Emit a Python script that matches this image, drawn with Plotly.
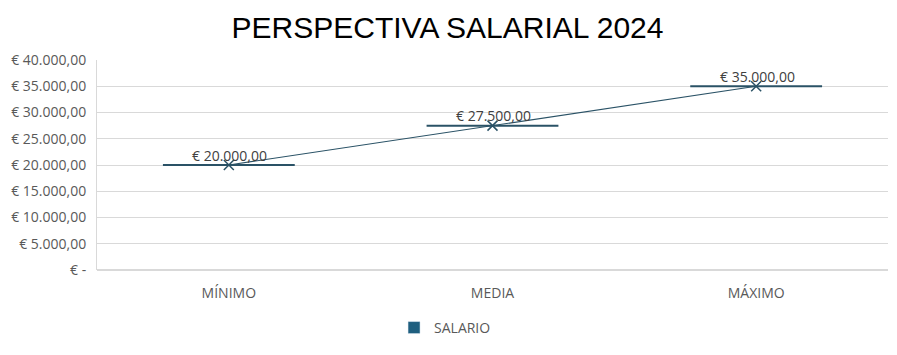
import plotly.graph_objects as go

categories = ["MÍNIMO", "MEDIA", "MÁXIMO"]
salario = [20000, 27500, 35000]
label_text = ["€ 20.000,00", "€ 27.500,00", "€ 35.000,00"]
ytick_vals = [0, 5000, 10000, 15000, 20000, 25000, 30000, 35000, 40000]
ytick_text = ["€ -", "€ 5.000,00", "€ 10.000,00", "€ 15.000,00", "€ 20.000,00",
              "€ 25.000,00", "€ 30.000,00", "€ 35.000,00", "€ 40.000,00"]

x_pos = list(range(len(categories)))

line_color = "#2a5266"
legend_color = "#1f5f7f"
font_fam = "Open Sans, Noto Sans, sans-serif"

fig = go.Figure()
fig.add_trace(go.Scatter(
    x=x_pos, y=salario, mode="lines+markers",
    line=dict(color=line_color, width=1.2),
    marker=dict(symbol="x-thin", size=10, line=dict(color=line_color, width=1.5), color=line_color),
    error_x=dict(type="constant", value=0.25, width=0, color=line_color, thickness=2),
    showlegend=False, cliponaxis=False,
))
fig.add_trace(go.Bar(x=[None], y=[None], name="SALARIO", marker_color=legend_color, showlegend=True))

for xp, yv, t in zip(x_pos, salario, label_text):
    fig.add_annotation(x=xp, y=yv, text=t, showarrow=False, yshift=10, xshift=1,
                       font=dict(family=font_fam, size=14, color="#404040"))

fig.update_layout(
    width=889, height=347,
    margin=dict(l=89, r=9, t=52, b=85, autoexpand=False),
    paper_bgcolor="white", plot_bgcolor="white",
    title=dict(text="PERSPECTIVA SALARIAL 2024", x=0.4944, xanchor="center", y=0.945, yanchor="middle",
               font=dict(family="Liberation Sans, Arial, sans-serif", size=30, color="#000000")),
    font=dict(family=font_fam, size=14, color="#595959"),
    xaxis=dict(range=[-0.5, 2.5], tickvals=x_pos, ticktext=categories, showgrid=False, ticks="",
               showline=False, zeroline=False, automargin=False, ticklabelstandoff=13,
               tickfont=dict(size=14, color="#595959")),
    yaxis=dict(range=[0, 40000], tickvals=ytick_vals, ticktext=ytick_text, automargin=False,
               showgrid=True, gridcolor="#d9d9d9", gridwidth=1, zeroline=True, zerolinecolor="#d9d9d9",
               showline=True, linecolor="#d9d9d9", ticks="", ticklabelstandoff=7,
               tickfont=dict(size=14, color="#595959")),
    legend=dict(orientation="h", x=0.44, xanchor="center", y=-0.276, yanchor="middle",
                itemwidth=30, font=dict(size=14, color="#595959")),
)
fig.write_html("out.html")
